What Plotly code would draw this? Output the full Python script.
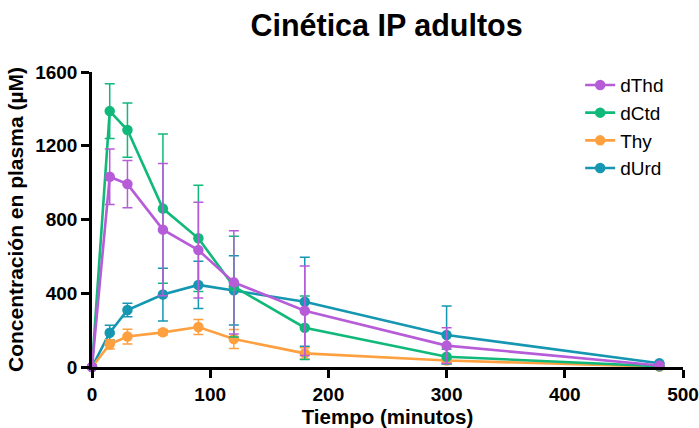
import plotly.graph_objects as go

time = [0, 15, 30, 60, 90, 120, 180, 300, 480]

dThd = [0, 1032, 992, 745, 634, 459, 305, 116, 8]
dThd_sd = [0, 150, 128, 359, 260, 280, 243, 97, 0]

dCtd = [0, 1388, 1285, 859, 698, 436, 213, 56, 4]
dCtd_sd = [0, 148, 147, 405, 288, 273, 172, 40, 0]

Thy = [0, 123, 165, 188, 217, 152, 74, 35, 2]
Thy_sd = [0, 25, 40, 15, 41, 51, 31, 10, 0]

dUrd = [0, 186, 309, 393, 445, 416, 354, 174, 20]
dUrd_sd = [0, 40, 37, 143, 128, 188, 241, 157, 0]

names = ["dThd", "dCtd", "Thy", "dUrd"]
colors = {"dThd": "#B65CD8", "dCtd": "#10B97A", "Thy": "#FFA040", "dUrd": "#1597B1"}
series = {"dThd": (dThd, dThd_sd), "dCtd": (dCtd, dCtd_sd),
          "Thy": (Thy, Thy_sd), "dUrd": (dUrd, dUrd_sd)}

fig = go.Figure()
for n in reversed(names):
    vals, sd = series[n]
    fig.add_trace(go.Scatter(
        x=time, y=vals, name=n, legendrank=names.index(n) + 1,
        mode="lines+markers",
        line=dict(color=colors[n], width=2.6),
        marker=dict(color=colors[n], size=10.5),
        error_y=dict(type="data", array=sd, visible=True, color=colors[n],
                     thickness=1.5, width=5),
        cliponaxis=False,
    ))

font_family = "Liberation Sans, Arial, sans-serif"
fig.update_layout(
    width=699, height=428,
    margin=dict(l=92, r=16, t=72, b=61, autoexpand=False),
    paper_bgcolor="white", plot_bgcolor="white",
    font=dict(family=font_family, color="black"),
    title=dict(text="<b>Cinética IP adultos</b>", x=0.553, xanchor="center",
               y=0.94, yanchor="middle", font=dict(size=30.5, family=font_family)),
    showlegend=True,
    legend=dict(traceorder="normal", x=0.826, xanchor="left", y=1.02, yanchor="top",
                font=dict(size=19, family=font_family), bgcolor="rgba(0,0,0,0)",
                itemwidth=30),
    xaxis=dict(range=[0, 500], tickvals=[0, 100, 200, 300, 400, 500],
               ticktext=["<b>0</b>", "<b>100</b>", "<b>200</b>", "<b>300</b>", "<b>400</b>", "<b>500</b>"],
               showline=True, linecolor="black", linewidth=2.5, ticks="outside",
               ticklen=8, tickwidth=2.5, tickcolor="black", showgrid=False, zeroline=False,
               automargin=False,
               tickfont=dict(size=19, family=font_family),
               title=dict(text="<b>Tiempo (minutos)</b>", font=dict(size=20.5, family=font_family), standoff=6)),
    yaxis=dict(range=[0, 1600], tickvals=[0, 400, 800, 1200, 1600],
               ticktext=["<b>0</b>", "<b>400</b>", "<b>800</b>", "<b>1200</b>", "<b>1600</b>"],
               showline=True, linecolor="black", linewidth=2.5, ticks="outside",
               ticklen=8, tickwidth=2.5, tickcolor="black", showgrid=False, zeroline=False,
               automargin=False,
               tickfont=dict(size=19, family=font_family),
               title=dict(text="<b>Concentración en plasma (µM)</b>", font=dict(size=21, family=font_family), standoff=6)),
)

fig.write_html("out.html")
